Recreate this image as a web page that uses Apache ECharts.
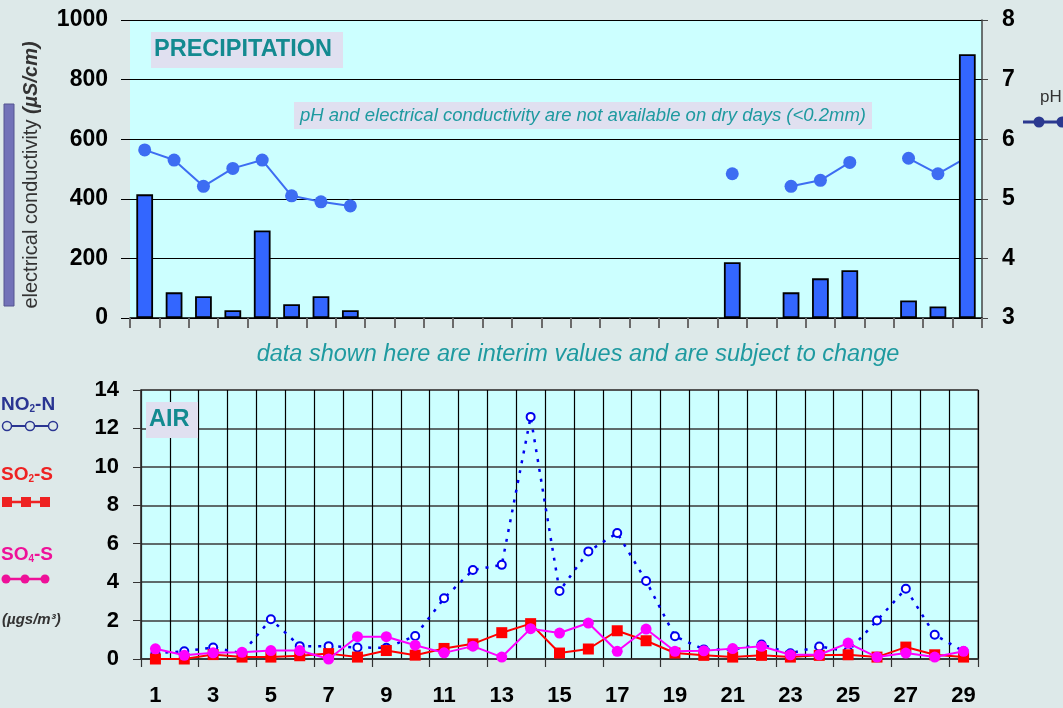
<!DOCTYPE html>
<html><head><meta charset="utf-8">
<script src="https://cdn.jsdelivr.net/npm/echarts@6/dist/echarts.min.js"></script>
<style>html,body{margin:0;padding:0;background:#dde9e9;}#c{width:1063px;height:708px;}</style>
</head><body><div id="c"></div>
<script>
const days = ['1','2','3','4','5','6','7','8','9','10','11','12','13','14','15','16','17','18','19','20','21','22','23','24','25','26','27','28','29'];
const conductivity = [415,86,73,26,294,46,73,26,null,null,null,null,null,null,null,null,null,null,null,null,187,null,86,133,160,null,59,39,885];
const ph = [5.82,5.65,5.21,5.51,5.65,5.05,4.95,4.88,null,null,null,null,null,null,null,null,null,null,null,null,5.42,null,5.21,5.31,5.61,null,5.68,5.42,5.7];
const no2 = [0.3,0.4,0.6,0.3,2.07,0.67,0.67,0.6,0.58,1.2,3.16,4.63,4.9,12.6,3.54,5.6,6.56,4.06,1.18,0.5,0.5,0.75,0.3,0.65,0.4,2.0,3.66,1.26,0.4];
const so2 = [0,0,0.23,0.1,0.1,0.17,0.28,0.1,0.44,0.2,0.55,0.79,1.37,1.84,0.31,0.52,1.47,0.95,0.31,0.19,0.1,0.19,0.1,0.19,0.22,0.1,0.62,0.22,0.1];
const so4 = [0.53,0.19,0.32,0.35,0.44,0.44,0,1.16,1.16,0.72,0.32,0.67,0.1,1.58,1.35,1.87,0.4,1.56,0.4,0.43,0.54,0.66,0.22,0.22,0.83,0.1,0.31,0.1,0.4];

const FONT = "'Liberation Sans', Arial, sans-serif";
const TEAL = '#138a90';
const chart = echarts.init(document.getElementById('c'), null, {renderer:'canvas'});
const numLabel = {fontFamily: FONT, fontWeight: 'bold', fontSize: 22, color: '#000'};
const topLabel = {fontFamily: FONT, fontWeight: 'bold', fontSize: 23, color: '#000'};
const plain = v => String(v);

chart.setOption({
  backgroundColor: '#dde9e9',
  animation: false,
  grid: [
    {left:130, right:81, top:20, bottom:390, show:true, backgroundColor:'#ccffff', borderWidth:0},
    {left:141, right:85, top:390, bottom:49, show:true, backgroundColor:'#ccffff', borderColor:'#8a8a8a', borderWidth:1.5}
  ],
  xAxis: [
    {gridIndex:0, type:'category', data:days, boundaryGap:true,
     axisLine:{show:true, lineStyle:{color:'#000', width:1.5}},
     axisTick:{show:true, length:10, lineStyle:{color:'#6a6a6a', width:2}},
     axisLabel:{show:false}, splitLine:{show:false}},
    {gridIndex:1, type:'category', data:days, boundaryGap:true,
     axisLine:{show:true, lineStyle:{color:'#333', width:1.5}},
     axisTick:{show:true, length:8, lineStyle:{color:'#333', width:1.2}},
     axisLabel:Object.assign({interval:1, margin:26}, numLabel),
     splitLine:{show:true, interval:0, lineStyle:{color:'#000', width:1.2}}}
  ],
  yAxis: [
    {gridIndex:0, type:'value', min:0, max:1000, interval:200,
     axisLine:{show:false}, axisTick:{show:true, length:9, lineStyle:{color:'#000'}},
     axisLabel:Object.assign({margin:22, formatter:plain}, topLabel),
     splitLine:{show:true, lineStyle:{color:'#000', width:1.2}}},
    {gridIndex:0, type:'value', min:3, max:8, interval:1, position:'right',
     axisLine:{show:true, lineStyle:{color:'#444', width:1.5}}, axisTick:{show:true, length:6, lineStyle:{color:'#444'}},
     axisLabel:Object.assign({margin:20, formatter:plain}, topLabel),
     splitLine:{show:false}},
    {gridIndex:1, type:'value', min:0, max:14, interval:2,
     axisLine:{show:true, lineStyle:{color:'#333', width:1.5}}, axisTick:{show:true, length:8, lineStyle:{color:'#333'}},
     axisLabel:Object.assign({margin:22, formatter:plain}, numLabel),
     splitLine:{show:true, lineStyle:{color:'#3a3a3a', width:1.5}}}
  ],
  series: [
    {type:'line', name:'pH', xAxisIndex:0, yAxisIndex:1, data:ph, connectNulls:false, z:2,
     symbol:'circle', symbolSize:13, showSymbol:true,
     lineStyle:{color:'#3d6df2', width:2}, itemStyle:{color:'#3d6df2'}},
    {type:'bar', name:'electrical conductivity', xAxisIndex:0, yAxisIndex:0, data:conductivity, barWidth:'57%', z:3,
     itemStyle:{color:'#3366ff', borderColor:'#000', borderWidth:1.8}},
    {type:'line', name:'NO2-N', xAxisIndex:1, yAxisIndex:2, data:no2, z:2,
     symbol:'emptyCircle', symbolSize:8,
     lineStyle:{color:'#0000ee', width:2.5, type:[3,7]},
     itemStyle:{color:'#0000ee', borderColor:'#0000ee', borderWidth:1.6}},
    {type:'line', name:'SO2-S', xAxisIndex:1, yAxisIndex:2, data:so2, z:3,
     symbol:'rect', symbolSize:11,
     lineStyle:{color:'#ff0000', width:2}, itemStyle:{color:'#ff0000'}},
    {type:'line', name:'SO4-S', xAxisIndex:1, yAxisIndex:2, data:so4, z:4,
     symbol:'circle', symbolSize:11,
     lineStyle:{color:'#ff00ff', width:2}, itemStyle:{color:'#ff00ff'}}
  ],
  graphic: [
    {type:'rect', shape:{x:151, y:32, width:192, height:36}, style:{fill:'#e0e0f0'}, z:10},
    {type:'text', x:154, y:50, z:11, style:{text:'PRECIPITATION', fontFamily:FONT, fontWeight:'bold', fontSize:23.5, fill:TEAL, textVerticalAlign:'middle'}},
    {type:'rect', shape:{x:294, y:102, width:578, height:27}, style:{fill:'#e0e0f0'}, z:10},
    {type:'text', x:583, y:115.5, z:11, style:{text:'pH and electrical conductivity are not available on dry days (<0.2mm)', fontFamily:FONT, fontStyle:'italic', fontSize:18.5, fill:'#1e9aa0', textAlign:'center', textVerticalAlign:'middle'}},
    {type:'text', x:578, y:354, z:11, style:{text:'data shown here are interim values and are subject to change', fontFamily:FONT, fontStyle:'italic', fontSize:23.5, fill:'#1e9aa0', textAlign:'center', textVerticalAlign:'middle'}},
    {type:'rect', shape:{x:146, y:402, width:52, height:36}, style:{fill:'#e0e0f0'}, z:10},
    {type:'text', x:149, y:420, z:11, style:{text:'AIR', fontFamily:FONT, fontWeight:'bold', fontSize:23.5, fill:TEAL, textVerticalAlign:'middle'}},
    {type:'rect', shape:{x:4, y:104, width:10, height:202}, style:{fill:'#7272b8', stroke:'#555590', lineWidth:1}},
    {type:'text', x:31, y:175, rotation:Math.PI/2, style:{
      text:'{a|electrical conductivity }{b|(µS/cm)}', textAlign:'center', textVerticalAlign:'middle',
      rich:{a:{fontFamily:FONT, fontSize:20, fill:'#333', color:'#333'}, b:{fontFamily:FONT, fontSize:20, fontStyle:'italic', fontWeight:'bold', fill:'#333', color:'#333'}}}},
    {type:'text', x:1040, y:97, style:{text:'pH', fontFamily:FONT, fontSize:17, fill:'#333', textVerticalAlign:'middle'}},
    {type:'line', shape:{x1:1023, y1:122, x2:1063, y2:122}, style:{stroke:'#2b3990', lineWidth:3}},
    {type:'circle', shape:{cx:1039, cy:122, r:5.5}, style:{fill:'#2b3990'}},
    {type:'circle', shape:{cx:1062, cy:122, r:5.5}, style:{fill:'#2b3990'}},
    {type:'text', x:1, y:405, style:{text:'NO{s|2}-N', fontFamily:FONT, fontWeight:'bold', fontSize:19, fill:'#2a3592', textVerticalAlign:'middle',
      rich:{s:{fontFamily:FONT, fontWeight:'bold', fontSize:10, fill:'#2a3592', color:'#2a3592', padding:[9,0,0,0]}}}},
    {type:'line', shape:{x1:7, y1:426, x2:53, y2:426}, style:{stroke:'#2a3592', lineWidth:2}},
    {type:'circle', shape:{cx:7, cy:426, r:4.5}, style:{fill:'#dde9e9', stroke:'#2a3592', lineWidth:1.5}},
    {type:'circle', shape:{cx:30, cy:426, r:4.5}, style:{fill:'#dde9e9', stroke:'#2a3592', lineWidth:1.5}},
    {type:'circle', shape:{cx:53, cy:426, r:4.5}, style:{fill:'#dde9e9', stroke:'#2a3592', lineWidth:1.5}},
    {type:'text', x:1, y:475, style:{text:'SO{s|2}-S', fontFamily:FONT, fontWeight:'bold', fontSize:19, fill:'#ee2222', textVerticalAlign:'middle',
      rich:{s:{fontFamily:FONT, fontWeight:'bold', fontSize:10, fill:'#ee2222', color:'#ee2222', padding:[9,0,0,0]}}}},
    {type:'line', shape:{x1:6, y1:502, x2:45, y2:502}, style:{stroke:'#ee2222', lineWidth:2.5}},
    {type:'rect', shape:{x:2, y:497, width:10, height:10}, style:{fill:'#ee2222'}},
    {type:'rect', shape:{x:21, y:497, width:10, height:10}, style:{fill:'#ee2222'}},
    {type:'rect', shape:{x:40, y:497, width:10, height:10}, style:{fill:'#ee2222'}},
    {type:'text', x:1, y:555, style:{text:'SO{s|4}-S', fontFamily:FONT, fontWeight:'bold', fontSize:19, fill:'#ee1199', textVerticalAlign:'middle',
      rich:{s:{fontFamily:FONT, fontWeight:'bold', fontSize:10, fill:'#ee1199', color:'#ee1199', padding:[9,0,0,0]}}}},
    {type:'line', shape:{x1:6, y1:579, x2:46, y2:579}, style:{stroke:'#ee1199', lineWidth:2.5}},
    {type:'circle', shape:{cx:6, cy:579, r:4.5}, style:{fill:'#ee1199'}},
    {type:'circle', shape:{cx:25, cy:579, r:4.5}, style:{fill:'#ee1199'}},
    {type:'circle', shape:{cx:45, cy:579, r:4.5}, style:{fill:'#ee1199'}},
    {type:'text', x:2, y:620, style:{text:'(µgs/m³)', fontFamily:FONT, fontStyle:'italic', fontWeight:'bold', fontSize:15, fill:'#333', textVerticalAlign:'middle'}}
  ]
});
</script></body></html>
